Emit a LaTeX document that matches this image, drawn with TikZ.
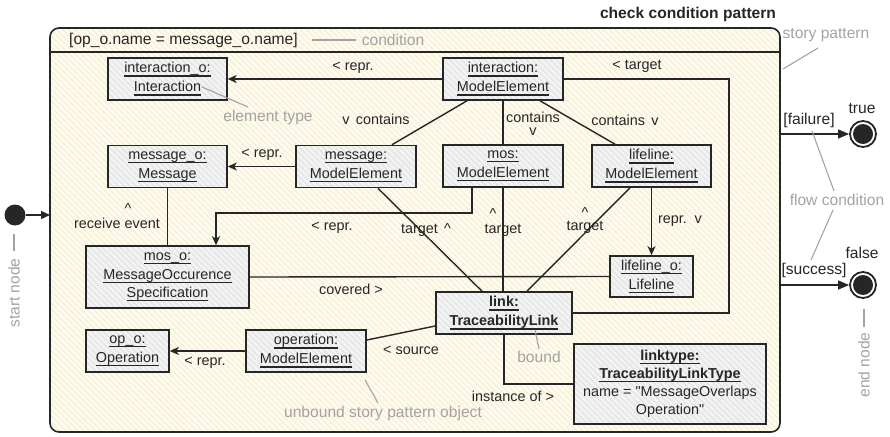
\documentclass[tikz,border=0pt]{standalone}
\usepackage{fontspec}
\setmainfont{Liberation Sans}[Ligatures=TeXOff]
\usetikzlibrary{arrows.meta,patterns.meta}
\definecolor{ink}{HTML}{262626}
\definecolor{objfill}{HTML}{F3F3F3}
\definecolor{objstripe}{HTML}{E4E4E4}
\definecolor{patfill}{HTML}{FEFBF1}
\definecolor{patstripe}{HTML}{F8EFD7}
\definecolor{note}{HTML}{A3A3A3}
% underlined object names (rule just under the baseline)
\newcommand\objname[1]{\setbox0\hbox{#1}\rlap{\rule[-3.7pt]{\wd0}{1.2pt}}\box0}
\begin{document}
\begin{tikzpicture}[x=1pt,y=-1pt,
  txt/.style={font=\fontsize{14.4}{19}\selectfont, text=ink, inner sep=0pt},
  bigtxt/.style={txt, font=\fontsize{15.6}{19}\selectfont},
  obj/.style={txt, draw=ink, line width=1.6pt, align=center,
    preaction={fill=objfill},
    pattern={Lines[angle=-45,distance=4.2pt,line width=1.3pt]}, pattern color=objstripe},
  lbl/.style={txt},
  remark/.style={bigtxt, text=note},
  remarkline/.style={draw=note, line width=1.1pt},
  conn/.style={draw=ink, line width=1.4pt},
  arr/.style={conn, -{Stealth[length=9pt,width=8pt,inset=2.5pt]}},
  flow/.style={conn, -{Triangle[length=11pt,width=9pt]}},
  endnode/.style={circle, draw=ink, line width=1.8pt, fill=white, minimum size=26pt, inner sep=0pt,
    path picture={\fill[ink] (path picture bounding box.center) circle (10pt);}}
]
\useasboundingbox (0,0) rectangle (890,436);

% story pattern frame with its condition compartment
\node[bigtxt, font=\fontsize{15.6}{19}\selectfont\bfseries] (title) at (688,14) {check condition pattern};
\path[draw=ink, line width=1.6pt, rounded corners=9pt,
  preaction={fill=patfill},
  pattern={Lines[angle=-45,distance=4.2pt,line width=1.4pt]}, pattern color=patstripe]
  (50,28) rectangle (780,432);
\draw[ink, line width=1.4pt] (50,52) -- (780,52);
\node[bigtxt, anchor=west] (cond) at (69,40) {[op\_o.name = message\_o.name]};

% objects
\node[obj, minimum width=119pt, minimum height=42pt] (io) at (167.5,79) {\objname{interaction\_o:}\\\objname{Interaction}};
\node[obj, minimum width=120pt, minimum height=42pt] (ie) at (503,79) {\objname{interaction:}\\\objname{ModelElement}};
\node[obj, minimum width=119pt, minimum height=42pt] (mo) at (167.5,166.5) {\objname{message\_o:}\\\objname{Message}};
\node[obj, minimum width=120pt, minimum height=42pt] (me) at (356,166.5) {\objname{message:}\\\objname{ModelElement}};
\node[obj, minimum width=120pt, minimum height=42pt] (mose) at (503,166) {\objname{mos:}\\\objname{ModelElement}};
\node[obj, minimum width=119pt, minimum height=42pt] (le) at (651.5,166) {\objname{lifeline:}\\\objname{ModelElement}};
\node[obj, minimum width=163pt, minimum height=62pt, font=\fontsize{14.4}{18.5}\selectfont] (moso) at (167.5,277) {\objname{mos\_o:}\\\objname{MessageOccurence}\\\objname{Specification}};
\node[obj, minimum width=83pt, minimum height=41pt] (lo) at (651.5,276.5) {\objname{lifeline\_o:}\\\objname{Lifeline}};
\node[obj, minimum width=136pt, minimum height=42pt, font=\fontsize{14.4}{19}\selectfont\bfseries] (link) at (504,313) {\objname{link:}\\\objname{TraceabilityLink}};
\node[obj, minimum width=83pt, minimum height=42pt] (opo) at (127.5,351) {\objname{op\_o:}\\\objname{Operation}};
\node[obj, minimum width=120pt, minimum height=42pt] (ope) at (306,351) {\objname{operation:}\\\objname{ModelElement}};
\node[obj, minimum width=192pt, minimum height=80pt, font=\fontsize{14.4}{18}\selectfont] (lt) at (670,384) {\textbf{\objname{linktype:}}\\\textbf{\objname{TraceabilityLinkType}}\\name = "MessageOverlaps\\Operation"};

% bend points of the orthogonal links
\coordinate (tgtbend) at (729,79);
\coordinate (reprbend) at (216,213);

% links between the objects
\draw[arr] (ie.west) -- (io.east);
\draw[conn] (ie.east) -- (tgtbend) |- (link.east);
\draw[conn] ([xshift=-36pt]ie.south) -- ([xshift=36pt]me.north);
\draw[conn] (ie.south) -- (mose.north);
\draw[conn] ([xshift=37pt]ie.south) -- ([xshift=-36.5pt]le.north);
\draw[arr] (me.west) -- (mo.east);
\draw[conn] (mo.south) -- (moso.north);
\draw[arr] ([xshift=-31pt]mose.south) |- (reprbend) -- (reprbend |- moso.north);
\draw[conn] ([xshift=22pt]me.south) -- ([xshift=-22pt]link.north);
\draw[conn] (mose.south) -- (mose.south |- link.north);
\draw[conn] ([xshift=-21.5pt]le.south) -- ([xshift=23pt]link.north);
\draw[arr] (le.south) -- (lo.north);
\draw[conn] (moso.east) -- (lo.west);
\draw[conn] ([yshift=-13pt]link.west) -- ([yshift=11pt]ope.east);
\draw[arr] (ope.west) -- (opo.east);
\draw[conn] (link.south) |- (lt.west);

% link labels
\node[lbl] (l1) at (353,68) {< repr.};
\node[lbl] (l2) at (637,66) {< target};
\node[lbl] (l3) at (376,119) {v\, contains};
\node[lbl, align=center, font=\fontsize{14.4}{13}\selectfont] (l4) at (533,124) {contains\\v};
\node[lbl] (l5) at (625,120) {contains\, v};
\node[lbl] (l6) at (262,155) {< repr.};
\node[lbl] (l7a) at (128,209) {\textasciicircum};
\node[lbl] (l7) at (117,223.5) {receive event};
\node[lbl] (l8) at (332,228) {< repr.};
\node[lbl] (l9) at (426,230) {target\, \textasciicircum};
\node[lbl] (l10a) at (493,214) {\textasciicircum};
\node[lbl] (l10) at (503,230) {target};
\node[lbl, align=center, font=\fontsize{14.4}{13}\selectfont] (l11) at (585,221) {\textasciicircum\\target};
\node[lbl] (l12) at (680,221) {repr.\, v};
\node[lbl] (l13) at (351,289) {covered >};
\node[lbl] (l14) at (411,350) {< source};
\node[lbl] (l15) at (205,363) {< repr.};
\node[lbl] (l16) at (513,396) {instance of >};

% initial node
\fill[ink] (15,215) circle (10.5pt) coordinate (startnode);
\coordinate (framein) at (50,215);
\draw[conn, -{Triangle[length=9pt,width=8pt]}] (25.5,215) -- (framein);

% final nodes with their flow conditions
\node[endnode] (truenode) at (863,134) {};
\node[endnode] (falsenode) at (863,285) {};
\coordinate (outtrue) at (780,134);
\coordinate (outfalse) at (780,285);
\draw[flow] (outtrue) -- (truenode.west);
\draw[flow] (outfalse) -- (falsenode.west);
\node[bigtxt] (truelbl) at (862,109) {true};
\node[bigtxt] (falselbl) at (862,253) {false};
\node[bigtxt] (failure) at (809,120) {[failure]};
\node[bigtxt] (success) at (814,270) {[success]};

% annotations
\node[remark] (ncond) at (393,40) {condition};
\draw[remarkline] (312,40) -- (356,40);
\node[remark] (nstory) at (826,35) {story pattern};
\draw[remarkline] (818,48) -- (783,69);
\node[remark] (ntype) at (268,117) {element type};
\draw[remarkline] (202,87) -- (248,107);
\node[remark] (nflow) at (837,200) {flow condition};
\draw[remarkline] (812,131) -- (834,191);
\draw[remarkline] (833,210) -- (811,260);
\node[remark] (nbound) at (539,357) {bound};
\draw[remarkline] (535,330) -- (539,349);
\node[remark] (nunbound) at (383,413) {unbound story pattern object};
\draw[remarkline] (365,380) -- (378,403);
\node[remark, rotate=90] (nstart) at (14,293) {start node};
\draw[remarkline] (14,234) -- (14,251);
\node[remark, rotate=90] (nend) at (864,365) {end node};
\draw[remarkline] (864,309) -- (864,327);
\end{tikzpicture}
\end{document}
